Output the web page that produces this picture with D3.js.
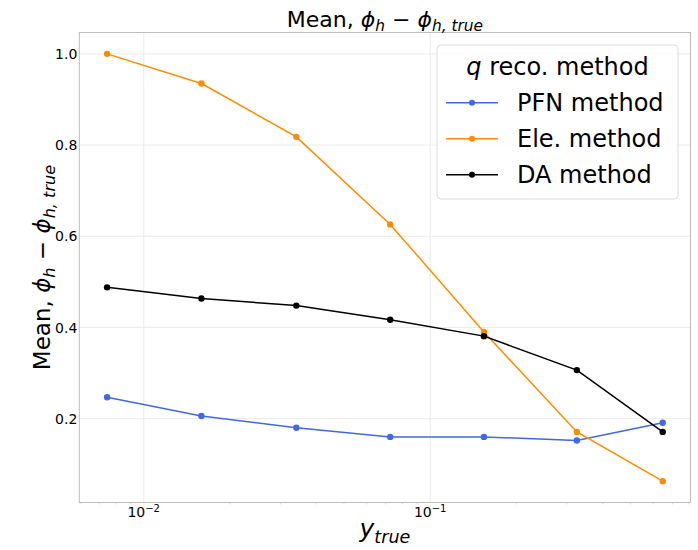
<!DOCTYPE html>
<html lang="en">
<head>
<meta charset="UTF-8">
<title>Mean phi_h - phi_h,true</title>
<script src="https://d3js.org/d3.v7.min.js"></script>
<style>
    html, body { margin: 0; padding: 0; background: #fff; }
    text { font-family: "DejaVu Sans", sans-serif; fill: #000; }
    .grid line { stroke: #e6e6e6; stroke-width: 0.8px; }
    path.line { fill: none; stroke-width: 1.5px; }
</style>
</head>
<body>
<script>

// values
var yTrue = [0.00745, 0.0159, 0.0341, 0.0725, 0.154, 0.325, 0.648];
var pfnMean = [0.247, 0.206, 0.180, 0.160, 0.160, 0.152, 0.191];
var eleMean = [1.0, 0.935, 0.818, 0.626, 0.390, 0.171, 0.063];
var daMean = [0.488, 0.4635, 0.448, 0.417, 0.381, 0.3065, 0.171];

var seriesNames = ["PFN method", "Ele. method", "DA method"];
var seriesColors = ["#4169e1", "#ff8c00", "#000000"];
var yTicks = [0.2, 0.4, 0.6, 0.8, 1.0];
var xMajorTicks = [0.01, 0.1];
var xTickExp = ["\u22122", "\u22121"];

var W = 698, H = 550;
var margin = {left: 79.3, right: 7.5, top: 32.5, bottom: 47.5};
var width = W - margin.left - margin.right;
var height = H - margin.top - margin.bottom;

var series = [pfnMean, eleMean, daMean];

// matplotlib style 5% margins
var lx = d3.extent(yTrue).map(Math.log10);
var px = 0.05 * (lx[1] - lx[0]);
var x = d3.scaleLog()
    .domain([Math.pow(10, lx[0] - px), Math.pow(10, lx[1] + px)])
    .range([0, width]);

var all = d3.merge(series);
var ly = d3.extent(all);
var py = 0.05 * (ly[1] - ly[0]);
var y = d3.scaleLinear()
    .domain([ly[0] - py, ly[1] + py])
    .range([height, 0]);

var svg = d3.select("body").append("svg")
    .attr("width", W).attr("height", H);

var g = svg.append("g")
    .attr("transform", "translate(" + margin.left + "," + margin.top + ")");

// grid
var grid = g.append("g").attr("class", "grid");
grid.selectAll("line.gy").data(yTicks).enter().append("line")
    .attr("x1", 0).attr("x2", width)
    .attr("y1", function(d) { return y(d); })
    .attr("y2", function(d) { return y(d); });
grid.selectAll("line.gx").data(xMajorTicks).enter().append("line")
    .attr("y1", 0).attr("y2", height)
    .attr("x1", function(d) { return x(d); })
    .attr("x2", function(d) { return x(d); });

// minor ticks on log axis
var minor = [];
[0.001, 0.01, 0.1].forEach(function(dec) {
    for (var k = 2; k <= 9; k++) {
        var v = dec * k;
        if (v >= x.domain()[0] && v <= x.domain()[1]) minor.push(v);
    }
});
g.selectAll("line.minor").data(minor).enter().append("line")
    .attr("x1", function(d) { return x(d); })
    .attr("x2", function(d) { return x(d); })
    .attr("y1", height).attr("y2", height + 2)
    .attr("stroke", "#c8c8c8").attr("stroke-width", 0.6);

// frame
g.append("rect")
    .attr("width", width).attr("height", height)
    .attr("fill", "none").attr("stroke", "#bdbdbd").attr("stroke-width", 1);

// y tick labels
g.selectAll("text.ytick").data(yTicks).enter().append("text")
    .attr("x", -2)
    .attr("y", function(d) { return y(d); })
    .attr("dy", "0.36em")
    .attr("text-anchor", "end")
    .style("font-size", "14px")
    .text(function(d) { return d3.format(".1f")(d); });

// x tick labels, 10^n
var xt = g.selectAll("text.xtick").data(xMajorTicks).enter().append("text")
    .attr("x", function(d) { return x(d); })
    .attr("y", height + 14)
    .attr("text-anchor", "middle")
    .style("font-size", "14px");
xt.append("tspan").text("10");
xt.append("tspan")
    .attr("dy", "-0.45em")
    .style("font-size", "10px")
    .text(function(d, i) { return xTickExp[i]; });

// lines and markers
var line = d3.line()
    .x(function(d, i) { return x(yTrue[i]); })
    .y(function(d) { return y(d); });

series.forEach(function(s, k) {
    g.append("path")
        .attr("class", "line")
        .attr("stroke", seriesColors[k])
        .attr("d", line(s));
    g.selectAll("circle.s" + k).data(s).enter().append("circle")
        .attr("cx", function(d, i) { return x(yTrue[i]); })
        .attr("cy", function(d) { return y(d); })
        .attr("r", 3.2)
        .attr("fill", seriesColors[k]);
});

// math-ish text helper
function mathText(sel, parts, size) {
    parts.forEach(function(p) {
        var t = sel.append("tspan").text(p.t);
        if (p.it) t.style("font-style", "italic");
        if (p.sub) {
            t.style("font-size", (size * 0.7) + "px").attr("dy", size * 0.22);
        }
        if (p.back) t.attr("dy", -size * 0.22);
    });
}

var meanParts = [
    {t: "Mean, "},
    {t: "\u03d5", it: true},
    {t: "h", it: true, sub: true},
    {t: " \u2212 ", back: true},
    {t: "\u03d5", it: true},
    {t: "h, true", it: true, sub: true}
];

// title
var title = svg.append("text")
    .attr("x", margin.left + width / 2)
    .attr("y", 26.5)
    .attr("text-anchor", "middle")
    .style("font-size", "22px");
mathText(title, meanParts, 22);

// y label
var ylab = svg.append("text")
    .attr("transform", "translate(50," + (margin.top + height / 2) + ") rotate(-90)")
    .attr("text-anchor", "middle")
    .style("font-size", "23px");
mathText(ylab, meanParts, 23);

// x label
var xlab = svg.append("text")
    .attr("x", margin.left + width / 2)
    .attr("y", 537)
    .attr("text-anchor", "middle")
    .style("font-size", "25px");
mathText(xlab, [{t: "y", it: true}, {t: "true", it: true, sub: true}], 25);

// legend
var leg = svg.append("g").attr("transform", "translate(437,45)");
leg.append("rect")
    .attr("width", 241).attr("height", 154)
    .attr("rx", 4)
    .attr("fill", "#fff").attr("fill-opacity", 0.85)
    .attr("stroke", "#dcdcdc").attr("stroke-width", 1);
var lt = leg.append("text")
    .attr("x", 120.5).attr("y", 30)
    .attr("text-anchor", "middle")
    .style("font-size", "24px");
lt.append("tspan").style("font-style", "italic").text("q");
lt.append("tspan").text(" reco. method");

seriesNames.forEach(function(name, k) {
    var row = leg.append("g").attr("transform", "translate(0," + (57.7 + k * 36) + ")");
    row.append("line")
        .attr("x1", 9).attr("x2", 61)
        .attr("stroke", seriesColors[k]).attr("stroke-width", 1.5);
    row.append("circle")
        .attr("cx", 35).attr("r", 3)
        .attr("fill", seriesColors[k]);
    row.append("text")
        .attr("x", 80).attr("y", 0).attr("dy", "0.36em")
        .style("font-size", "24px")
        .text(name);
});

</script>
</body>
</html>
